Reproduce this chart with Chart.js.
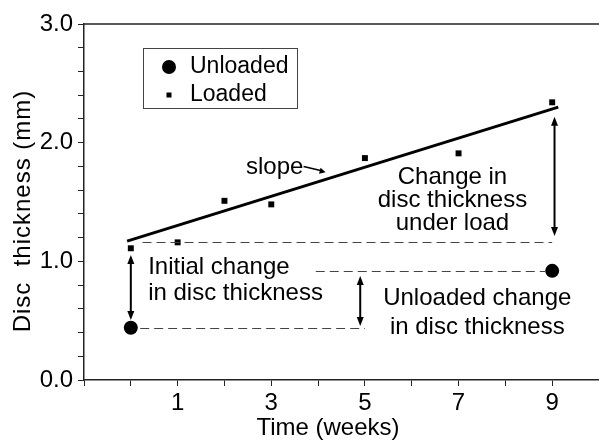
<!DOCTYPE html>
<html>
<head>
<meta charset="utf-8">
<script src="https://cdn.jsdelivr.net/npm/chart.js@4.4.0/dist/chart.umd.min.js"></script>
<style>
	html, body { margin: 0; padding: 0; background: #fff; }
</style>
</head>
<body>
<canvas id="discChart" width="599" height="447"></canvas>
<script>
'use strict';

var loadedWeeks    = [0, 1, 2, 3, 5, 7, 9];
var loadedValues   = [1.11, 1.16, 1.51, 1.48, 1.87, 1.91, 2.34];
var unloadedWeeks  = [0, 9];
var unloadedValues = [0.44, 0.92];
var slopeWeeks     = [-0.08, 9.13];
var slopeValues    = [1.17, 2.30];
var xTickLabels    = [1, 3, 5, 7, 9];
var yTickLabels    = [0, 1, 2, 3];

// dashed reference levels: [value, from week, to week]
var dashLevels = [[1.16, 0.25, 9.0], [0.92, 3.95, 8.85], [0.44, 0.2, 5.0]];
// double headed arrows: [week, low value, high value]
var arrows = [[0, 0.505, 1.053], [9.05, 1.213, 2.218], [4.9, 0.455, 0.876]];
// text notes: [text, week, value, align]
var notes = [
	['slope', 2.46, 1.795, 'left'],
	['Change in', 6.87, 1.71, 'center'],
	['disc thickness', 6.87, 1.516, 'center'],
	['under load', 6.87, 1.32, 'center'],
	['Initial change', 0.37, 0.952, 'left'],
	['in disc thickness', 0.37, 0.733, 'left'],
	['Unloaded change', 7.4, 0.69, 'center'],
	['in disc thickness', 7.4, 0.446, 'center']
];

var FONT = '"Liberation Sans", Arial, Helvetica, sans-serif';

function toPoints(xs, ys)
{
	return xs.map(function(x, i) { return {x: x, y: ys[i]}; });
}

function arrowHead(ctx, x, y, angle, len, half)
{
	ctx.save();
	ctx.translate(x, y);
	ctx.rotate(angle);
	ctx.beginPath();
	ctx.moveTo(0, 0);
	ctx.lineTo(-len, -half);
	ctx.lineTo(-len, half);
	ctx.closePath();
	ctx.fill();
	ctx.restore();
}

var notesPlugin =
{
	id: 'notes',
	afterDatasetsDraw: function(chart)
	{
		var ctx = chart.ctx;
		var xs = chart.scales.x;
		var ys = chart.scales.y;
		var area = chart.chartArea;

		ctx.save();
		ctx.fillStyle = '#000';
		ctx.strokeStyle = '#222';

		// top frame line
		ctx.lineWidth = 1.5;
		ctx.beginPath();
		ctx.moveTo(area.left, area.top);
		ctx.lineTo(area.right, area.top);
		ctx.stroke();

		ctx.setLineDash([9, 5]);
		ctx.lineWidth = 1;
		ctx.strokeStyle = '#444';
		dashLevels.forEach(function(d)
		{
			var y = Math.round(ys.getPixelForValue(d[0])) + 0.5;
			ctx.beginPath();
			ctx.moveTo(xs.getPixelForValue(d[1]), y);
			ctx.lineTo(xs.getPixelForValue(d[2]), y);
			ctx.stroke();
		});
		ctx.setLineDash([]);

		ctx.strokeStyle = '#000';
		ctx.lineWidth = 2;
		arrows.forEach(function(a)
		{
			var x = xs.getPixelForValue(a[0]);
			var yLow = ys.getPixelForValue(a[1]);
			var yHigh = ys.getPixelForValue(a[2]);
			ctx.beginPath();
			ctx.moveTo(x, yHigh + 6);
			ctx.lineTo(x, yLow - 6);
			ctx.stroke();
			arrowHead(ctx, x, yHigh, -Math.PI / 2, 9, 3.5);
			arrowHead(ctx, x, yLow, Math.PI / 2, 9, 3.5);
		});

		// little arrow from "slope" to the fitted line
		var sx0 = xs.getPixelForValue(3.69), sy0 = ys.getPixelForValue(1.80);
		var sx1 = xs.getPixelForValue(4.16), sy1 = ys.getPixelForValue(1.75);
		ctx.lineWidth = 1.5;
		ctx.beginPath();
		ctx.moveTo(sx0, sy0);
		ctx.lineTo(sx1 - 4, sy1 - 1.5);
		ctx.stroke();
		arrowHead(ctx, sx1, sy1, Math.atan2(sy1 - sy0, sx1 - sx0), 6, 3);

		ctx.font = '24px ' + FONT;
		ctx.textBaseline = 'middle';
		notes.forEach(function(n)
		{
			ctx.textAlign = n[3];
			ctx.fillText(n[0], xs.getPixelForValue(n[1]), ys.getPixelForValue(n[2]));
		});

		// legend
		ctx.strokeStyle = '#444';
		ctx.lineWidth = 1;
		ctx.strokeRect(143.5, 48.5, 154, 60);
		ctx.beginPath();
		ctx.arc(169, 67, 7, 0, Math.PI * 2);
		ctx.fill();
		ctx.fillRect(166.5, 92.5, 5, 5);
		ctx.font = '23px ' + FONT;
		ctx.textAlign = 'left';
		ctx.fillText('Unloaded', 190, 67);
		ctx.fillText('Loaded', 190, 95);

		// axis titles
		ctx.font = '24px ' + FONT;
		ctx.textAlign = 'center';
		ctx.fillText('Time (weeks)', 328, 428);
		ctx.translate(23, 211);
		ctx.rotate(-Math.PI / 2);
		ctx.letterSpacing = '1px';
		ctx.fillText('Disc  thickness (mm)', 0, 0);
		ctx.restore();
	}
};

Chart.defaults.font.family = FONT;
Chart.defaults.font.size = 24;
Chart.defaults.color = '#000';

var discChart = new Chart(document.getElementById('discChart'),
{
	type: 'scatter',
	data:
	{
		datasets: [
			{
				label          : 'Unloaded',
				data           : toPoints(unloadedWeeks, unloadedValues),
				pointStyle     : 'circle',
				pointRadius    : 7,
				backgroundColor: '#000',
				borderColor    : '#000',
				borderWidth    : 0
			},
			{
				label          : 'Loaded',
				data           : toPoints(loadedWeeks, loadedValues),
				pointStyle     : 'rect',
				pointRadius    : 4.2,
				backgroundColor: '#000',
				borderColor    : '#000',
				borderWidth    : 0
			},
			{
				label      : 'slope',
				data       : toPoints(slopeWeeks, slopeValues),
				showLine   : true,
				pointRadius: 0,
				borderColor: '#000',
				borderWidth: 3
			}
		]
	},
	options:
	{
		responsive: false,
		animation : false,
		layout    : { autoPadding: false, padding: { top: 24, right: 0, left: 0, bottom: 0 } },
		plugins   :
		{
			legend : { display: false },
			tooltip: { enabled: false }
		},
		scales:
		{
			x:
			{
				type  : 'linear',
				min   : -1,
				max   : 10,
				border: { color: '#222', width: 1.5 },
				grid  : { drawOnChartArea: false, tickLength: 6, tickColor: '#222', tickWidth: 1 },
				ticks :
				{
					stepSize   : 1,
					padding    : 3,
					maxRotation: 0,
					autoSkip   : false,
					callback   : function(v) { return xTickLabels.indexOf(v) >= 0 ? String(v) : ''; }
				},
				afterFit: function(scale)
				{
					scale.height = 67;
					scale.paddingLeft = 0;
					scale.paddingRight = 0;
				}
			},
			y:
			{
				min   : 0,
				max   : 3,
				border: { color: '#222', width: 1.5 },
				grid  : { drawOnChartArea: false, tickLength: 6, tickColor: '#222', tickWidth: 1 },
				ticks :
				{
					stepSize: 0.2,
					padding : 5,
					autoSkip: false,
					callback: function(v)
					{
						var r = Math.round(v);
						return (Math.abs(v - r) < 1e-6 && yTickLabels.indexOf(r) >= 0) ? r.toFixed(1) : '';
					}
				},
				afterFit: function(scale) { scale.width = 84; }
			}
		}
	},
	plugins: [notesPlugin]
});
</script>
</body>
</html>
